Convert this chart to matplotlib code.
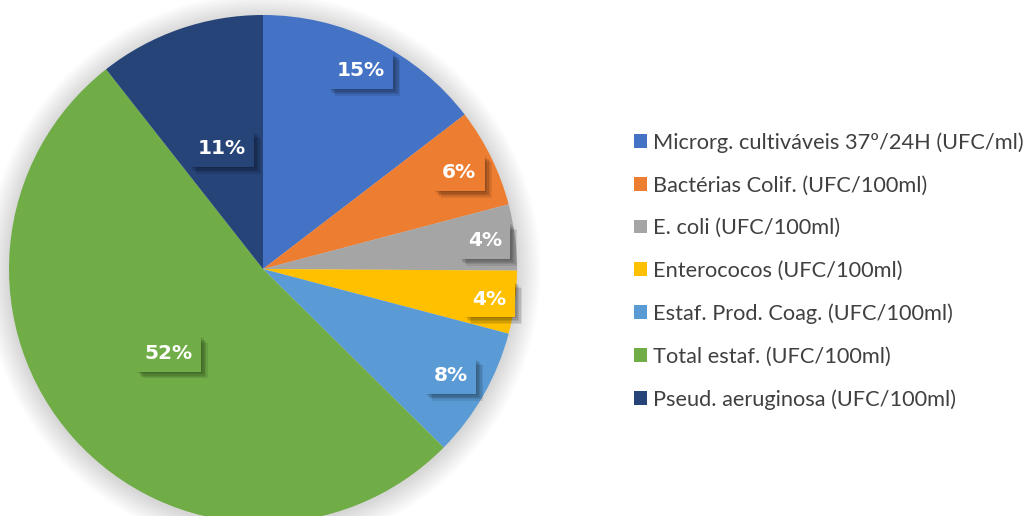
import matplotlib.pyplot as plt
import matplotlib.patheffects as pe
from matplotlib.patches import Circle
import numpy as np

labels = ['Microrg. cultiváveis 37º/24H (UFC/ml)',
          'Bactérias Colif. (UFC/100ml)',
          'E. coli (UFC/100ml)',
          'Enterococos (UFC/100ml)',
          'Estaf. Prod. Coag. (UFC/100ml)',
          'Total estaf. (UFC/100ml)',
          'Pseud. aeruginosa (UFC/100ml)']
values = [14.6, 6.3, 4.2, 4.0, 8.3, 52.0, 10.6]
colors = ['#4472C4', '#ED7D31', '#A5A5A5', '#FFC000', '#5B9BD5', '#70AD47', '#264478']
# distance of each % label from the centre, as a fraction of the radius
label_dist = [0.87, 0.86, 0.88, 0.90, 0.85, 0.50, 0.50]

fig = plt.figure(figsize=(10.26, 5.16), dpi=100)
ax = fig.add_axes([0, 0, 1, 1])

cx, cy, R = 263, 247, 254

# soft shadow round the pie
for i in range(20):
    ax.add_patch(Circle((cx, cy - 2), R + 1 + i * 1.2, color='black', alpha=0.009, lw=0, zorder=0))

wedges, _ = ax.pie(values, colors=colors, startangle=90, counterclock=False,
                   center=(cx, cy), radius=R, frame=True,
                   wedgeprops=dict(linewidth=0))
ax.set_xlim(0, 1026)
ax.set_ylim(0, 516)
ax.set_aspect('equal')
ax.axis('off')

total = sum(values)
shadow = [pe.SimplePatchShadow(offset=(k, -k), shadow_rgbFace='black', alpha=0.09)
          for k in (1, 2, 3, 4, 5)]
for w, v, d in zip(wedges, values, label_dist):
    ang = np.deg2rad((w.theta1 + w.theta2) / 2)
    x = cx + d * R * np.cos(ang)
    y = cy + d * R * np.sin(ang)
    t = ax.text(x, y, '%.0f%%' % (v / total * 100), ha='center', va='center',
                color='white', fontsize=14.5, fontweight='bold', family='DejaVu Sans',
                bbox=dict(boxstyle='square,pad=0.42', fc=w.get_facecolor(), ec='none'),
                zorder=5)
    t.get_bbox_patch().set_path_effects(shadow + [pe.Normal()])

leg = ax.legend(wedges, labels, loc='upper left', bbox_to_anchor=(0.607, 0.765),
                frameon=False, fontsize=15.7, handlelength=0.6, handleheight=0.6,
                handletextpad=0.3, labelspacing=1.04, borderpad=0)
for txt in leg.get_texts():
    txt.set_color('#404040')
    txt.set_family('Lato')

fig.savefig('out.png', dpi=100)
